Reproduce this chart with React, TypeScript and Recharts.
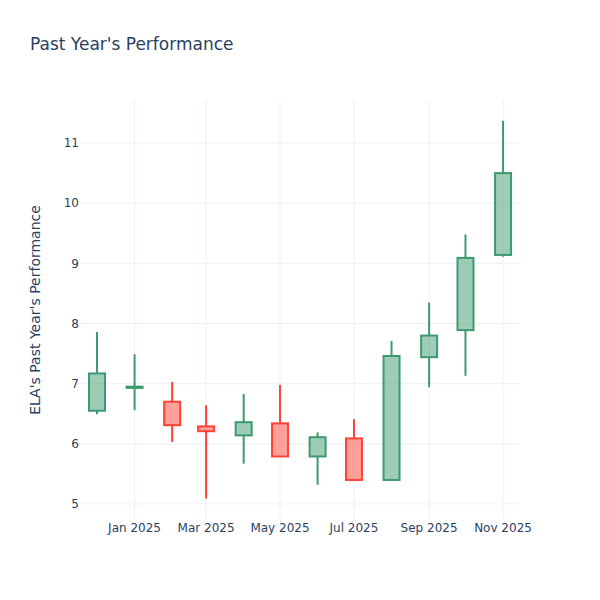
import React from "react";
import { ComposedChart, Bar, XAxis, YAxis, CartesianGrid } from "recharts";

const months = [
  "2024-12-01", "2025-01-01", "2025-02-01", "2025-03-01", "2025-04-01", "2025-05-01",
  "2025-06-01", "2025-07-01", "2025-08-01", "2025-09-01", "2025-10-01", "2025-11-01",
];
const opens = [6.55, 6.93, 6.7, 6.29, 6.14, 6.34, 5.79, 6.09, 5.4, 7.44, 7.89, 9.14];
const highs = [7.86, 7.49, 7.03, 6.64, 6.83, 6.98, 6.19, 6.41, 7.71, 8.35, 9.48, 11.37];
const lows = [6.49, 6.56, 6.03, 5.09, 5.67, 5.79, 5.32, 5.4, 5.4, 6.94, 7.13, 9.11];
const closes = [7.17, 6.95, 6.31, 6.21, 6.36, 5.79, 6.11, 5.4, 7.46, 7.8, 9.09, 10.5];

const xTickDates = ["2025-01-01", "2025-03-01", "2025-05-01", "2025-07-01", "2025-09-01", "2025-11-01"];
const yTicks = [5, 6, 7, 8, 9, 10, 11];
const monthNames = ["Jan", "Feb", "Mar", "Apr", "May", "Jun", "Jul", "Aug", "Sep", "Oct", "Nov", "Dec"];

const xDomain = [Date.parse("2024-11-17"), Date.parse("2025-11-15")];
const yDomain = [4.734, 11.715];
const xTickValues = xTickDates.map((d) => Date.parse(d));

const data = months.map((m, i) => ({
  t: Date.parse(m),
  open: opens[i],
  high: highs[i],
  low: lows[i],
  close: closes[i],
  range: [lows[i], highs[i]],
}));

const FONT = "'DejaVu Sans', 'Open Sans', Arial, sans-serif";
const TEXT = "#2a3f5f";
const UP = "#3D9970";
const DOWN = "#FF4136";

const Candle = (props: any) => {
  const { x, y, width, height, payload } = props;
  if (!payload) return null;
  const { open, close, high, low } = payload;
  const top = Math.min(y, y + height);
  const h = Math.abs(height);
  const pix = (v: number) => (high === low ? top : top + ((high - v) / (high - low)) * h);
  const cx = x + width / 2;
  const up = close >= open;
  const color = up ? UP : DOWN;
  const bTop = pix(Math.max(open, close));
  const bBot = pix(Math.min(open, close));
  const bw = 16;
  return (
    <g>
      <line x1={cx} x2={cx} y1={pix(high)} y2={bTop} stroke={color} strokeWidth={2} />
      <line x1={cx} x2={cx} y1={bBot} y2={pix(low)} stroke={color} strokeWidth={2} />
      <rect
        x={cx - bw / 2}
        y={bTop}
        width={bw}
        height={Math.max(bBot - bTop, 0)}
        fill={color}
        fillOpacity={0.5}
        stroke={color}
        strokeWidth={2}
      />
    </g>
  );
};

const fmtDate = (v: number) => {
  const d = new Date(v);
  return `${monthNames[d.getUTCMonth()]} ${d.getUTCFullYear()}`;
};

export default function App() {
  return (
    <div style={{ position: "absolute", left: 0, top: 0, width: 600, height: 600, background: "#fff" }}>
      <div
        style={{
          position: "absolute",
          left: 30,
          top: 34,
          fontFamily: FONT,
          fontSize: 17,
          color: TEXT,
          whiteSpace: "nowrap",
          lineHeight: "20px",
        }}
      >
        Past Year's Performance
      </div>
      <div
        style={{
          position: "absolute",
          left: 35,
          top: 310,
          transform: "translate(-50%, -50%) rotate(-90deg)",
          fontFamily: FONT,
          fontSize: 14,
          color: TEXT,
          whiteSpace: "nowrap",
          lineHeight: "16px",
        }}
      >
        ELA's Past Year's Performance
      </div>
      <ComposedChart
        width={600}
        height={600}
        data={data}
        margin={{ top: 100, right: 80, bottom: 50, left: 30 }}
        style={{ position: "absolute", left: 0, top: 0 }}
      >
        <CartesianGrid
          stroke="#EBF0F8"
          strokeWidth={1}
          horizontalValues={yTicks}
          verticalValues={xTickValues}
        />
        <XAxis
          dataKey="t"
          type="number"
          scale="linear"
          domain={xDomain}
          ticks={xTickValues}
          tickFormatter={fmtDate}
          axisLine={false}
          tickLine={false}
          height={30}
          tickSize={0}
          tickMargin={3}
          tick={{ fontFamily: FONT, fontSize: 12, fill: TEXT }}
          allowDataOverflow
        />
        <YAxis
          type="number"
          domain={yDomain}
          ticks={yTicks}
          axisLine={false}
          tickLine={false}
          width={50}
          tickSize={0}
          tickMargin={1}
          tick={{ fontFamily: FONT, fontSize: 12, fill: TEXT }}
          allowDataOverflow
        />
        <Bar dataKey="range" barSize={16} shape={Candle} isAnimationActive={false} />
      </ComposedChart>
    </div>
  );
}
